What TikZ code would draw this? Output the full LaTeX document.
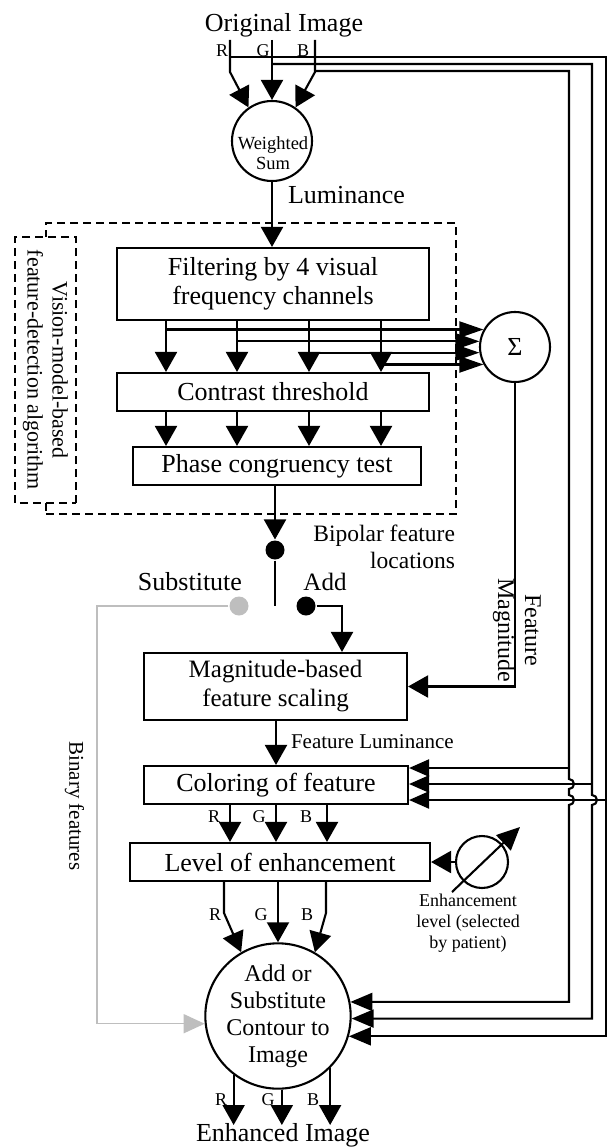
\documentclass[tikz,border=0pt]{standalone}
\usepackage{fontspec}
\setmainfont{Liberation Serif}
\usetikzlibrary{arrows.meta,calc}
\definecolor{grayline}{RGB}{190,190,190}
\begin{document}
\begin{tikzpicture}[x=1pt,y=-1pt,line width=2.1pt,
  bx/.style={draw,rectangle,inner sep=0pt,align=center,font=\fontsize{26}{29}\selectfont},
  lbl/.style={inner sep=0pt,font=\fontsize{26}{29}\selectfont},
  sml/.style={inner sep=0pt,font=\fontsize{18}{21}\selectfont},
  arr/.style={-{Triangle[length=20pt,width=22pt]}},
  arrS/.style={-{Triangle[length=24pt,width=16pt]}},
  arrC/.style={-{Triangle[length=20pt,width=17pt]}},
  arrF/.style={-{Triangle[length=22pt,width=18pt]}},
  arrK/.style={-{Triangle[length=23pt,width=21pt]}},
  gry/.style={draw=grayline,line width=1.5pt,-{Triangle[length=21pt,width=19pt]}},
  dotb/.style={circle,fill,inner sep=0pt,minimum size=19pt},
  dsh/.style={draw,dash pattern=on 8pt off 5pt,inner sep=0pt}
]
\useasboundingbox (0,0) rectangle (609,1148);

% ---------- coordinates ----------
\coordinate (Rtop) at (230,40);
\coordinate (Gtop) at (272,40);
\coordinate (Btop) at (315,40);
\coordinate (Rrow) at (0,57);
\coordinate (Grow) at (0,64);
\coordinate (Brow) at (0,71);
\coordinate (Rx) at (606,0);
\coordinate (Gx) at (592,0);
\coordinate (Bx) at (569,0);
\coordinate (C1) at (0,768);
\coordinate (C2) at (0,784);
\coordinate (C3) at (0,800);
\coordinate (ch1) at (166,0);
\coordinate (ch2) at (237,0);
\coordinate (ch3) at (309,0);
\coordinate (ch4) at (381,0);
\coordinate (sp) at (275,0);
\coordinate (blade) at (275,606);
\coordinate (addx) at (342,0);
\coordinate (gx) at (97,0);
\coordinate (k1) at (230,0);
\coordinate (k2) at (276,0);
\coordinate (k3) at (327,0);
\coordinate (m1) at (224,0);
\coordinate (m2) at (278,0);
\coordinate (m3) at (326,0);
\coordinate (mb) at (0,913);
\coordinate (outlev) at (0,1125);
\coordinate (kn1) at (452,892);
\coordinate (kn2) at (520,827);

% ---------- dashed frames ----------
\node[dsh,minimum width=410pt,minimum height=291pt] (outer) at (251,368.5) {};
\node[dsh,fill=white,rotate=-90,minimum width=266pt,minimum height=61pt,align=center,
      font=\fontsize{22}{25}\selectfont] (vis) at (45.5,370) {Vision-model-based\\feature-detection algorithm};

% ---------- nodes ----------
\node[lbl,anchor=base] (orig) at (284,32) {Original Image};
\node[sml] (tR) at (222,51) {R};
\node[sml] (tG) at (263,51) {G};
\node[sml] (tB) at (303,51) {B};
\node[circle,draw,inner sep=0pt,minimum size=80pt] (ws) at (272,141) {};
\node[inner sep=0pt,align=center,font=\fontsize{18.5}{20}\selectfont] (wstxt) at (273,153) {Weighted\\Sum};
\node[lbl,anchor=base west] (lum) at (287,203) {Luminance};

\node[bx,minimum width=312pt,minimum height=72pt] (filt) at (273,284) {Filtering by 4 visual\\frequency channels};
\node[bx,minimum width=312pt,minimum height=38pt] (contr) at (273,392) {Contrast threshold};
\node[bx,minimum width=288pt,minimum height=38pt] (phase) at (277,466) {Phase congruency test};
\node[circle,draw,inner sep=0pt,minimum size=70pt,font=\fontsize{26}{29}\selectfont] (sigma) at (515,347) {Σ};

\node[dotb] (dot1) at (275,550) {};
\node[inner sep=0pt,align=right,anchor=east,font=\fontsize{23.5}{27}\selectfont] (bip) at (456,547) {Bipolar feature\\locations};
\node[lbl,anchor=base] (subs) at (190,590) {Substitute};
\node[inner sep=0pt,anchor=base,font=\fontsize{25}{29}\selectfont] (addl) at (325,590) {Add};
\node[dotb,fill=grayline] (gdot) at (239,606) {};
\node[dotb] (adot) at (306,606) {};
\node[inner sep=0pt,rotate=-90,align=center,font=\fontsize{24}{27}\selectfont] (fmag) at (517,630) {Feature\\Magnitude};
\node[inner sep=0pt,rotate=-90,font=\fontsize{21}{24}\selectfont] (binf) at (74.5,806) {Binary features};

\node[bx,minimum width=263pt,minimum height=67pt,font=\fontsize{25}{29}\selectfont] (mag) at (275.5,686.5) {Magnitude-based\\feature scaling};
\node[inner sep=0pt,anchor=base west,font=\fontsize{21}{24}\selectfont] (flum) at (290,748) {Feature Luminance};
\node[bx,minimum width=264pt,minimum height=38pt] (color) at (276,785) {Coloring of feature};
\node[sml] (cR) at (214,817) {R};
\node[sml] (cG) at (259,817) {G};
\node[sml] (cB) at (306,817) {B};
\node[bx,minimum width=300pt,minimum height=38pt] (level) at (280,862) {Level of enhancement};
\node[circle,draw,inner sep=0pt,minimum size=52pt] (knob) at (482,862) {};
\node[inner sep=0pt,align=center,font=\fontsize{18}{21}\selectfont] (enl) at (468,923) {Enhancement\\level (selected\\by patient)};
\node[sml] (lR) at (215,915) {R};
\node[sml] (lG) at (261,915) {G};
\node[sml] (lB) at (307,915) {B};
\node[circle,draw,inner sep=0pt,minimum size=142pt,align=center,font=\fontsize{24}{27}\selectfont] (final) at (278,1016) {Add or\\Substitute\\Contour to\\Image};
\node[sml] (oR) at (221,1100) {R};
\node[sml] (oG) at (268,1100) {G};
\node[sml] (oB) at (313,1100) {B};
\node[lbl,anchor=base] (enh) at (283,1141) {Enhanced Image};

% ---------- connectors ----------
\draw[arr] (Rtop) -- ++(0,32) -- (ws.125);
\draw[arr] (Gtop) -- (ws.north);
\draw[arr] (Btop) -- ++(0,32) -- (ws.55);

\draw[arrF] (Rtop |- Rrow) -- (Rx |- Rrow) -- (Rx |- final.344) -- (final.344);
\draw[arrF] (Gtop |- Grow) -- (Gx |- Grow) -- (592,795) arc[start angle=90,end angle=-90,radius=5pt]
   -- (Gx |- final.358) -- (final.358);
\draw[arrF] (Btop |- Brow) -- (Bx |- Brow) -- (569,779) arc[start angle=90,end angle=-90,radius=5pt]
   -- (569,795) arc[start angle=90,end angle=-90,radius=5pt] -- (Bx |- final.11) -- (final.11);
\draw[arrC] (Bx |- C1) -- (color.east |- C1);
\draw[arrC] (Gx |- C2) -- (color.east |- C2);
\draw[arrC] (Rx |- C3) -- (color.east |- C3);

\draw[arr] (ws.south) -- (ws.south |- filt.north);
\foreach \c in {ch1,ch2,ch3,ch4}{
  \draw[arr] (filt.south -| \c) -- (contr.north -| \c);
  \draw[arr] (contr.south -| \c) -- (phase.north -| \c);
}
\draw[arrS] (ch1 |- sigma.151) -- (sigma.151);
\draw[arrS] (ch2 |- sigma.171) -- (sigma.171);
\draw[arrS] (ch3 |- sigma.189) -- (sigma.189);
\draw[arrS] (ch4 |- sigma.209) -- (sigma.209);

\draw[arr] (phase.south -| sp) -- (dot1.north);
\draw (dot1.south) -- (blade);
\draw[arr] (adot.east) -- (addx |- adot) -- (addx |- mag.north);
\draw[gry] (gdot.west) -- (gx |- gdot) -- (gx |- final.186) -- (final.186);
\draw[arr] (sigma.south) -- (sigma.south |- mag.east) -- (mag.east);

\draw[arr] (mag.south -| k2) -- (color.north -| k2);
\foreach \c in {k1,k2,k3}{
  \draw[arr] (color.south -| \c) -- (level.north -| \c);
}
\draw[arr] (knob.west) -- (level.east);
\draw[arrK] (kn1) -- (kn2);
\draw[arr] (level.south -| m1) -- (m1 |- mb) -- (final.120);
\draw[arr] (level.south -| m2) -- (final.north);
\draw[arr] (level.south -| m3) -- (m3 |- mb) -- (final.60);

\draw[arr] (final.233) -- (final.233 |- outlev);
\draw[arr] (final.273) -- (final.273 |- outlev);
\draw[arr] (final.315) -- (final.315 |- outlev);
\end{tikzpicture}
\end{document}
